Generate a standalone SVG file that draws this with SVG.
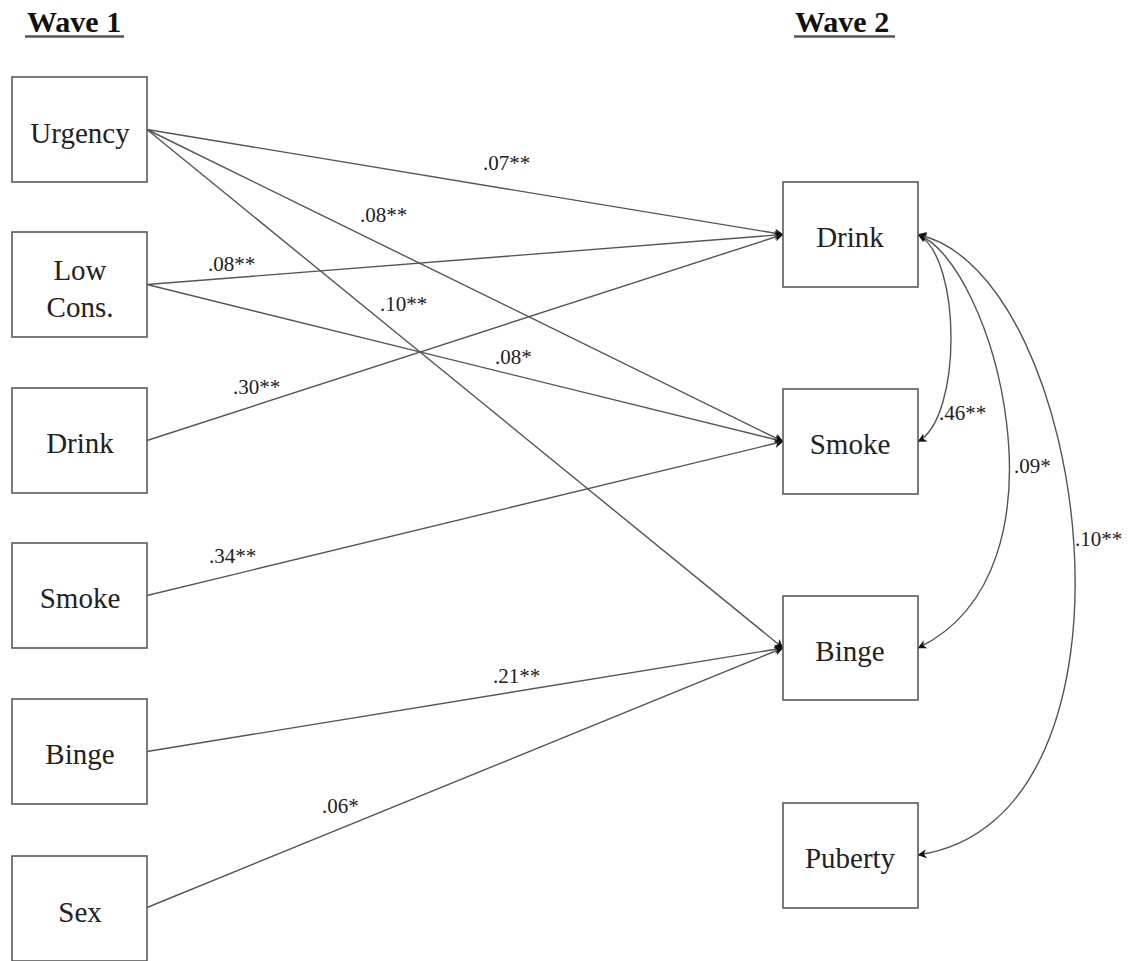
<svg xmlns="http://www.w3.org/2000/svg" width="1134" height="961" viewBox="0 0 1134 961">
<style>
.box{fill:#fff;stroke:#5a5a5a;stroke-width:1.6}
.nt{font-family:"Liberation Serif","Times New Roman",serif;font-size:29px;fill:#222;text-anchor:middle}
.lb{font-family:"Liberation Serif","Times New Roman",serif;font-size:21px;fill:#222}
.hd{font-family:"Liberation Serif","Times New Roman",serif;font-size:30px;font-weight:bold;fill:#111}
.ln{fill:none;stroke:#555;stroke-width:1.4}
</style>
<defs>
<marker id="ah" viewBox="0 0 10 10" refX="9.5" refY="5" markerWidth="9" markerHeight="9" markerUnits="userSpaceOnUse" orient="auto-start-reverse">
<path d="M0,0 L10,5 L0,10 L3,5 Z" fill="#111"/>
</marker>
</defs>
<rect width="1134" height="961" fill="#fff"/>
<g id="headers">
<text class="hd" x="27" y="32">Wave 1</text>
<line x1="25" y1="36.5" x2="124" y2="36.5" stroke="#555" stroke-width="2.5"/>
<text class="hd" x="795" y="32">Wave 2</text>
<line x1="794" y1="36.5" x2="895" y2="36.5" stroke="#555" stroke-width="2.5"/>
</g>
<g id="connectors">
<line class="ln" x1="147" y1="129.5" x2="783" y2="234.5" marker-end="url(#ah)"/>
<line class="ln" x1="147" y1="129.5" x2="783" y2="441.5" marker-end="url(#ah)"/>
<line class="ln" x1="147" y1="129.5" x2="783" y2="648" marker-end="url(#ah)"/>
<line class="ln" x1="147" y1="284.5" x2="783" y2="234.5" marker-end="url(#ah)"/>
<line class="ln" x1="147" y1="284.5" x2="783" y2="441.5" marker-end="url(#ah)"/>
<line class="ln" x1="147" y1="440.5" x2="783" y2="234.5" marker-end="url(#ah)"/>
<line class="ln" x1="147" y1="595.5" x2="783" y2="441.5" marker-end="url(#ah)"/>
<line class="ln" x1="147" y1="751.5" x2="783" y2="648" marker-end="url(#ah)"/>
<line class="ln" x1="147" y1="907.5" x2="783" y2="648" marker-end="url(#ah)"/>
<path class="ln" d="M918,234.5 C962,258 962,418 918,441.5" marker-start="url(#ah)" marker-end="url(#ah)"/>
<path class="ln" d="M918,234.5 C992,262 1080,570 918,648" marker-start="url(#ah)" marker-end="url(#ah)"/>
<path class="ln" d="M918,234.5 C1090,272 1162,820 918,855" marker-start="url(#ah)" marker-end="url(#ah)"/>
<text class="lb" x="483" y="170">.07**</text>
<text class="lb" x="360" y="222">.08**</text>
<text class="lb" x="208" y="271">.08**</text>
<text class="lb" x="380" y="311">.10**</text>
<text class="lb" x="495" y="364">.08*</text>
<text class="lb" x="233" y="394">.30**</text>
<text class="lb" x="209" y="563">.34**</text>
<text class="lb" x="493" y="683">.21**</text>
<text class="lb" x="322" y="813">.06*</text>
<text class="lb" x="939" y="420">.46**</text>
<text class="lb" x="1014" y="473">.09*</text>
<text class="lb" x="1075" y="546">.10**</text>
</g>
<g id="w1-urgency"><rect class="box" x="12" y="77" width="135" height="105"/><text class="nt" x="80" y="143">Urgency</text></g>
<g id="w1-lowcons"><rect class="box" x="12" y="232" width="135" height="105"/><text class="nt" x="80" y="280">Low</text><text class="nt" x="80" y="317">Cons.</text></g>
<g id="w1-drink"><rect class="box" x="12" y="388" width="135" height="105"/><text class="nt" x="80" y="453">Drink</text></g>
<g id="w1-smoke"><rect class="box" x="12" y="543" width="135" height="105"/><text class="nt" x="80" y="608">Smoke</text></g>
<g id="w1-binge"><rect class="box" x="12" y="699" width="135" height="105"/><text class="nt" x="80" y="764">Binge</text></g>
<g id="w1-sex"><rect class="box" x="12" y="856" width="135" height="105"/><text class="nt" x="80" y="922">Sex</text></g>
<g id="w2-drink"><rect class="box" x="783" y="182" width="135" height="105"/><text class="nt" x="850" y="247">Drink</text></g>
<g id="w2-smoke"><rect class="box" x="783" y="389" width="135" height="105"/><text class="nt" x="850" y="454">Smoke</text></g>
<g id="w2-binge"><rect class="box" x="783" y="596" width="135" height="104"/><text class="nt" x="850" y="661">Binge</text></g>
<g id="w2-puberty"><rect class="box" x="783" y="803" width="135" height="105"/><text class="nt" x="850" y="868">Puberty</text></g>
</svg>
